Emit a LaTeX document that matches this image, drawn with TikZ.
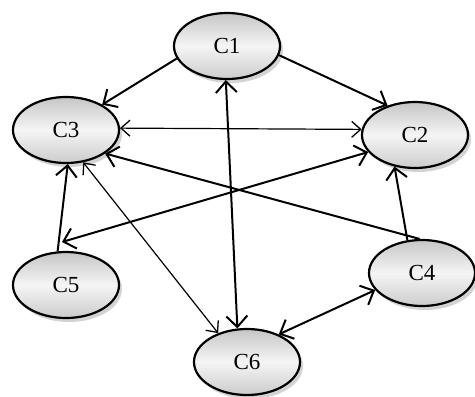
\documentclass[tikz,border=0pt]{standalone}
\usepackage{fontspec}
\setmainfont{Liberation Serif}
\usetikzlibrary{shapes.geometric,arrows.meta,shadows}
\begin{document}
\begin{tikzpicture}[x=1pt,y=-1pt,
  cnode/.style={ellipse,draw=black,line width=2.2pt,minimum width=106pt,minimum height=66pt,inner sep=0pt,
    top color=gray!45,bottom color=gray!40,middle color=gray!8,
    drop shadow={opacity=0.35,shadow xshift=3pt,shadow yshift=-4pt},
    font=\fontsize{23}{26}\selectfont},
  tip/.tip={Straight Barb[length=11pt,width=21pt,line width=2pt]},
  thin tip/.tip={Straight Barb[length=9pt,width=16pt,line width=1.3pt]},
  thk/.style={line width=2pt,-tip},
  thkb/.style={line width=2pt,tip-tip},
  thn/.style={line width=1.2pt,thin tip-thin tip}]
\useasboundingbox (0,0) rectangle (475,397);
\node[cnode] (c1) at (227,46) {C1};
\node[cnode] (c3) at (66,130) {C3};
\node[cnode] (c2) at (415,135) {C2};
\node[cnode] (c5) at (66,285) {C5};
\node[cnode] (c4) at (422,273) {C4};
\node[cnode] (c6) at (247,362) {C6};
\coordinate (c5t) at (62,242);
\draw[thk] (c1.194) -- (c3.35);
\draw[thk] (c1.350) -- (c2.133);
\draw[thn] (c3.2) -- (c2.174);
\draw[thkb] (c1.268) -- (c6.106);
\draw[thk] (c4.94) -- (c3.329);
\draw[thkb] (c2.200) -- (c5t);
\draw[thk] (c5.104) -- (c3.273);
\draw[thn] (c3.298) -- (c6.135);
\draw[thk] (c4.114) -- (c2.237);
\draw[thkb] (c6.41) -- (c4.200);
\end{tikzpicture}
\end{document}
